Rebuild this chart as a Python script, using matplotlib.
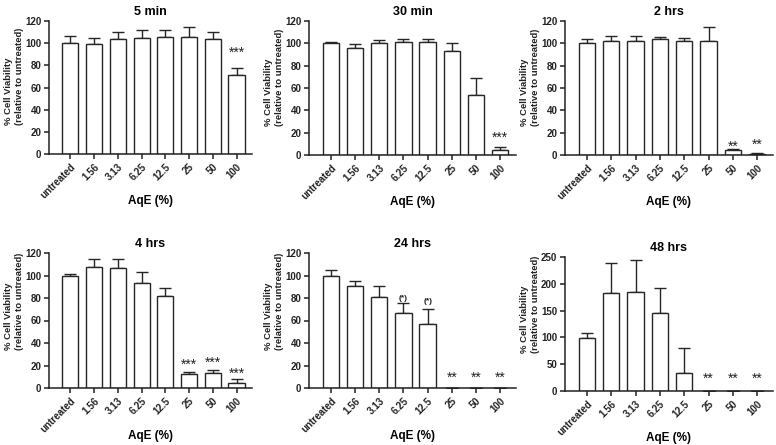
import numpy as np
import matplotlib
matplotlib.use("Agg")
import matplotlib.pyplot as plt

plt.rcParams['font.family'] = ['Liberation Sans', 'DejaVu Sans']
plt.rcParams['font.weight'] = 'bold'

categories = ["untreated", "1.56", "3.13", "6.25", "12.5", "25", "50", "100"]

# mean viability and upper error (SD) per panel
titles = ["5 min", "30 min", "2 hrs", "4 hrs", "24 hrs", "48 hrs"]
means_5min = [100, 99.6, 104, 105, 106, 106, 104, 71]
err_5min = [6.5, 4.8, 6, 7, 6, 9, 6, 7]
means_30min = [100, 96, 100, 101.5, 101, 93.5, 53.6, 4.5]
err_30min = [1, 3.7, 3, 2.5, 2.5, 6.8, 15.4, 2.5]
means_2hrs = [100, 102.5, 102.5, 104, 102, 102, 4.8, 1.2]
err_2hrs = [4, 4, 4, 2, 2.5, 13, 0.9, 0.6]
means_4hrs = [99.4, 107.7, 106.5, 93.5, 81.5, 12.2, 13.7, 4.8]
err_4hrs = [1.6, 7.3, 8.5, 9.5, 7.5, 2.1, 2.7, 3.5]
means_24hrs = [99.4, 91, 80.7, 66.7, 57, 0, 0, 0]
err_24hrs = [5.4, 4.5, 9.8, 9.3, 13, 0, 0, 0]
means_48hrs = [99.5, 182, 184, 145.5, 33.6, 0, 0, 0]
err_48hrs = [8.5, 57, 61, 46.5, 47.4, 0, 0, 0]

# significance labels: (category index, text, y position)
stars_5min = [(7, "***", 91)]
stars_30min = [(7, "***", 15)]
stars_2hrs = [(6, "**", 7.5), (7, "**", 9.5)]
stars_4hrs = [(5, "***", 20.5), (6, "***", 22.5), (7, "***", 13)]
stars_24hrs = [(3, "(*)", 80), (4, "(*)", 76.5), (5, "**", 9.5), (6, "**", 9.5), (7, "**", 9.5)]
stars_48hrs = [(5, "**", 22), (6, "**", 22), (7, "**", 22)]

panels = [
    (means_5min, err_5min, stars_5min, 120, 20),
    (means_30min, err_30min, stars_30min, 120, 20),
    (means_2hrs, err_2hrs, stars_2hrs, 120, 20),
    (means_4hrs, err_4hrs, stars_4hrs, 120, 20),
    (means_24hrs, err_24hrs, stars_24hrs, 120, 20),
    (means_48hrs, err_48hrs, stars_48hrs, 250, 50),
]

W, H = 776, 445
# axes rectangles in pixels: left, right, top, bottom(zero line)
rects = [
    (49, 252, 21, 154),
    (309, 516, 21, 155),
    (565, 773, 21, 155),
    (49, 252, 253, 388),
    (309, 516, 253, 388),
    (565, 773, 257, 391),
]
# where the y-label block starts (pixels above zero line)
ylab_offset = [29, 29, 29, 38, 38, 38]

fig = plt.figure(figsize=(W / 100, H / 100), dpi=100)
x = np.arange(len(categories))
edge = "#262626"

for i, (means, err, stars, ymax, step) in enumerate(panels):
    l, r, t, b = rects[i]
    ax = fig.add_axes([l / W, 1 - b / H, (r - l) / W, (b - t) / H])
    ax.bar(x, means, width=0.68, color="white", edgecolor=edge, linewidth=1.0, zorder=2)
    ax.errorbar(x, means, yerr=[np.zeros(len(err)), err], fmt="none",
                ecolor=edge, elinewidth=1.0, capsize=4, capthick=1.0, zorder=1)
    for idx, txt, yy in stars:
        if txt.startswith("*"):
            ax.text(idx, yy, txt, ha="center", va="center", fontsize=10,
                    fontweight="normal", color="#222222")
        else:
            ax.text(idx, yy, txt, ha="center", va="center", fontsize=6,
                    fontweight="bold", color="#222222")
    ax.set_xlim(-0.9, 7.65)
    ax.set_ylim(0, ymax)
    ax.set_yticks(np.arange(0, ymax + 1, step))
    ax.set_xticks(x)
    ax.set_xticklabels(categories, rotation=45, ha="right", rotation_mode="anchor")
    ax.spines["top"].set_visible(False)
    ax.spines["right"].set_visible(False)
    for sp in ["left", "bottom"]:
        ax.spines[sp].set_linewidth(1.1)
        ax.spines[sp].set_color("#222222")
    ax.tick_params(axis="both", labelsize=7, width=1.1, length=3.5, colors="#222222", pad=2)
    ax.set_title(titles[i], fontsize=9, fontweight="bold", pad=4)
    ax.set_xlabel("AqE (%)", fontsize=8.5, fontweight="bold")
    ax.xaxis.set_label_coords(0.5, -0.352)
    ax.xaxis.label.set_va("center")
    fig.text((l - 35) / W, 1 - (b - ylab_offset[i]) / H,
             "% Cell Viability\n(relative to untreated)", rotation=90,
             ha="center", va="bottom", multialignment="left",
             fontsize=6.8, fontweight="bold", linespacing=1.15, color="#222222")

fig.savefig("out.png", dpi=100)
